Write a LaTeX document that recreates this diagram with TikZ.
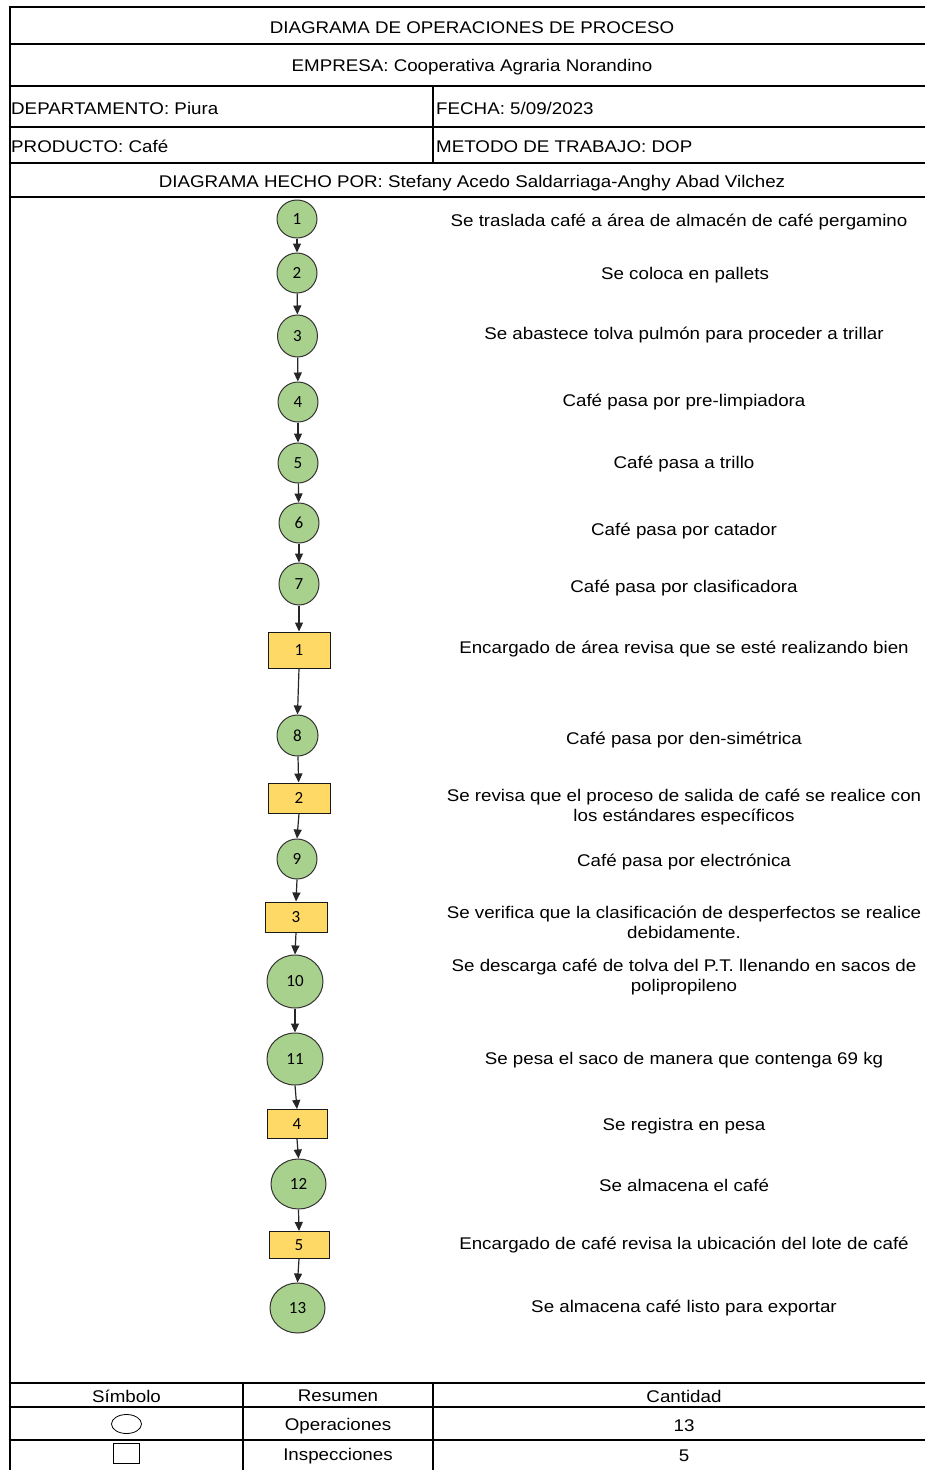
\documentclass[tikz,border=0pt]{standalone}
\usepackage{fontspec}
\setmainfont[FakeStretch=1.11]{Liberation Sans}
\newfontfamily\numfont{Carlito}
\usetikzlibrary{arrows.meta,shapes.geometric}
\definecolor{opgreen}{HTML}{A9D18E}
\definecolor{inspyellow}{HTML}{FFD966}
\tikzset{
  gridline/.style={line width=2.9pt, black},
  txt/.style={font=\fontsize{16.9}{20}\selectfont, inner sep=0pt, align=center},
  ltxt/.style={font=\fontsize{16.9}{20}\selectfont, inner sep=0pt, anchor=west},
  opnode/.style={ellipse, draw=black!80, line width=1pt, fill=opgreen, inner sep=0pt,
     font=\numfont\fontsize{17}{17}\selectfont},
  inspnode/.style={rectangle, draw=black!90, line width=1pt, fill=inspyellow, inner sep=0pt,
     minimum width=62pt, font=\numfont\fontsize{17}{17}\selectfont},
  flow/.style={-{Triangle[length=9pt,width=8pt]}, line width=1.2pt, black!85},
}
\begin{document}
\begin{tikzpicture}[x=1pt,y=-1pt]
\useasboundingbox (0,0) rectangle (925,1470);
\clip (0,0) rectangle (925,1470);
\fill[white] (0,0) rectangle (925,1470);

% header grid
\foreach \yy in {7,44,86,127,163,197}
  \draw[gridline] (8.6,\yy) -- (945,\yy);
\draw[gridline] (10,5.6) -- (10,1480);
\draw[gridline] (433,86) -- (433,163);

% header texts
\node[txt] (title) at (472,28) {DIAGRAMA DE OPERACIONES DE PROCESO};
\node[txt] (empresa) at (472,67) {EMPRESA: Cooperativa Agraria Norandino};
\node[ltxt] (depto) at (11,108) {DEPARTAMENTO: Piura};
\node[ltxt] (fecha) at (436,108) {FECHA: 5/09/2023};
\node[ltxt] (producto) at (11,146.5) {PRODUCTO: Café};
\node[ltxt] (metodo) at (436,146.5) {METODO DE TRABAJO: DOP};
\node[txt] (autor) at (472,183) {DIAGRAMA HECHO POR: Stefany Acedo Saldarriaga-Anghy Abad Vilchez};

% flow nodes
\node[opnode, minimum width=40pt, minimum height=38pt] (c1) at (297,219) {1};
\node[opnode, minimum width=40pt, minimum height=40pt] (c2) at (297,273) {2};
\node[opnode, minimum width=40pt, minimum height=42pt] (c3) at (297.5,336) {3};
\node[opnode, minimum width=40pt, minimum height=40pt] (c4) at (298,402) {4};
\node[opnode, minimum width=40pt, minimum height=40pt] (c5) at (298,463) {5};
\node[opnode, minimum width=40pt, minimum height=40pt] (c6) at (299,523) {6};
\node[opnode, minimum width=40pt, minimum height=42pt] (c7) at (299,584) {7};
\node[inspnode, minimum height=36pt] (r1) at (299,650) {1};
\node[opnode, minimum width=41pt, minimum height=41pt] (c8) at (297.5,735.5) {8};
\node[inspnode, minimum height=30pt] (r2) at (299,798) {2};
\node[opnode, minimum width=40pt, minimum height=40pt] (c9) at (297,859) {9};
\node[inspnode, minimum height=30pt] (r3) at (296,917) {3};
\node[opnode, minimum width=56pt, minimum height=53pt] (c10) at (295,981.5) {10};
\node[opnode, minimum width=56pt, minimum height=52pt] (c11) at (295,1059) {11};
\node[inspnode, minimum width=60pt, minimum height=29pt] (r4) at (297,1124) {4};
\node[opnode, minimum width=55pt, minimum height=50pt] (c12) at (298.5,1184) {12};
\node[inspnode, minimum width=60pt, minimum height=27pt] (r5) at (299,1245) {5};
\node[opnode, minimum width=55pt, minimum height=50pt] (c13) at (297.5,1308) {13};

% connectors
\draw[flow] (c1) -- (c2);
\draw[flow] (c2) -- (c3);
\draw[flow] (c3) -- (c4);
\draw[flow] (c4) -- (c5);
\draw[flow] (c5) -- (c6);
\draw[flow] (c6) -- (c7);
\draw[flow] (c7) -- (r1);
\draw[flow] (r1.south) -- (c8.north);
\draw[flow] (c8) -- (r2);
\draw[flow] (r2.south) -- (c9.north);
\draw[flow] (c9.south) -- (r3.north);
\draw[flow] (r3.south) -- (c10.north);
\draw[flow] (c10) -- (c11);
\draw[flow] (c11.south) -- (r4.north);
\draw[flow] (r4.south) -- (c12.north);
\draw[flow] (c12.south) -- (r5.north);
\draw[flow] (r5.south) -- (c13.north);

% descriptions
\node[txt] (d1) at (679,222) {Se traslada café a área de almacén de café pergamino};
\node[txt] (d2) at (685,275) {Se coloca en pallets};
\node[txt] (d3) at (684,335) {Se abastece tolva pulmón para proceder a trillar};
\node[txt] (d4) at (684,402) {Café pasa por pre-limpiadora};
\node[txt] (d5) at (684,464) {Café pasa a trillo};
\node[txt] (d6) at (684,531) {Café pasa por catador};
\node[txt] (d7) at (684,588) {Café pasa por clasificadora};
\node[txt] (e1) at (684,649) {Encargado de área revisa que se esté realizando bien};
\node[txt] (d8) at (684,740) {Café pasa por den-simétrica};
\node[txt] (e2) at (684,807) {Se revisa que el proceso de salida de café se realice con\\los estándares específicos};
\node[txt] (d9) at (684,862) {Café pasa por electrónica};
\node[txt] (e3) at (684,922) {Se verifica que la clasificación de desperfectos se realice\\debidamente.};
\node[txt] (d10) at (684,977) {Se descarga café de tolva del P.T. llenando en sacos de\\polipropileno};
\node[txt] (d11) at (684,1060) {Se pesa el saco de manera que contenga 69 kg};
\node[txt] (e4) at (684,1126) {Se registra en pesa};
\node[txt] (d12) at (684,1185) {Se almacena el café};
\node[txt] (e5) at (684,1245) {Encargado de café revisa la ubicación del lote de café};
\node[txt] (d13) at (684,1308) {Se almacena café listo para exportar};

% summary table
\foreach \yy in {1383,1407,1440}
  \draw[gridline] (8.6,\yy) -- (945,\yy);
\draw[gridline] (243,1383) -- (243,1480);
\draw[gridline] (433,1383) -- (433,1480);
\node[txt] (hsim) at (126.5,1396) {Símbolo};
\node[txt] (hres) at (338,1396) {Resumen};
\node[txt] (hcan) at (684,1396) {Cantidad};
\node[ellipse, draw=black, line width=0.8pt, minimum width=30pt, minimum height=19pt, inner sep=0pt] (symop) at (126.5,1424) {};
\node[txt] (rop) at (338,1426) {Operaciones};
\node[txt] (cop) at (684,1426) {13};
\node[rectangle, draw=black, line width=0.8pt, minimum width=26pt, minimum height=20pt, inner sep=0pt] (symin) at (126,1453) {};
\node[txt] (rin) at (338,1456) {Inspecciones};
\node[txt] (cin) at (684,1456) {5};
\end{tikzpicture}
\end{document}
